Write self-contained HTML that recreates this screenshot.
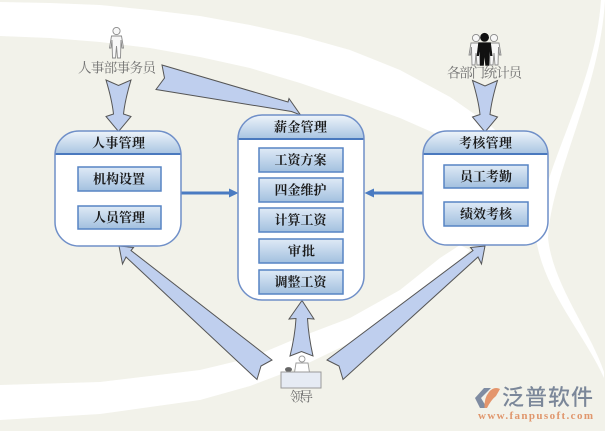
<!DOCTYPE html>
<html><head><meta charset="utf-8"><style>
html,body{margin:0;padding:0;background:#f2f2ea;}
svg{display:block}
.bx{font-family:"Liberation Serif","Noto Serif CJK SC",serif;font-weight:bold;font-size:13px;fill:#1c1c1c}
.lb{font-family:"Liberation Serif","Noto Serif CJK SC",serif;font-size:13.5px;fill:#707070}
</style></head><body>
<svg width="605" height="431" viewBox="0 0 605 431" xmlns="http://www.w3.org/2000/svg">
<defs>
<linearGradient id="hg" x1="0" y1="0" x2="0" y2="1">
<stop offset="0" stop-color="#eef4fa"/><stop offset="1" stop-color="#a8c4e1"/>
</linearGradient>
<linearGradient id="ig" x1="0" y1="0" x2="0" y2="1">
<stop offset="0" stop-color="#dfeaf6"/><stop offset="1" stop-color="#a2c0df"/>
</linearGradient>
<clipPath id="c1"><rect x="55" y="131" width="126" height="115" rx="24"/></clipPath>
<clipPath id="c2"><rect x="238" y="115" width="126" height="185" rx="24"/></clipPath>
<clipPath id="c3"><rect x="423" y="131" width="125" height="114" rx="24"/></clipPath>
</defs>
<rect width="605" height="431" fill="#f2f2ea"/>

<!-- background white bands -->
<path fill="#ffffff" d="M0 2 L50 3 L100 5 L150 10 L200 16 L250 25 L300 36 L350 50 L400 70 L450 97 L490 125 L520 155 L500 185 L470 155 L450 140 L400 118 L350 100 L300 83 L250 68 L200 57 L150 48 L100 42 L50 38 L0 36 Z"/>
<path fill="#ffffff" d="M0 385 L100 382 L200 370 L250 358 L300 337 L350 318 L400 290 L440 258 L460 245 L470 250 L450 272 L400 312 L350 343 L300 367 L250 386 L200 400 L100 414 L0 420 Z"/>
<path fill="#ffffff" d="M601 0 C595 90 540 170 536 238 C543 290 585 335 604 378 L604 372 C590 330 553 285 548 238 C551 175 600 90 605 0 Z"/>

<!-- block arrows -->
<g fill="#bfcfee" stroke="#555" stroke-width="1" stroke-linejoin="miter">
<path d="M106 80 L118.5 85.5 L131 80 Q125 100 123.5 114 L131 116.5 L118.5 131.5 L106 116.5 L113.5 114 Q112 100 106 80 Z"/>
<path transform="translate(366.5,0.5)" d="M106 80 L118.5 85.5 L131 80 Q125 100 123.5 114 L131 116.5 L118.5 131.5 L106 116.5 L113.5 114 Q112 100 106 80 Z"/>
<path d="M290 356 L301.5 351.5 L313 356 Q308.5 336 307.5 318.5 L314 319 L302 300.5 L289 319 L296 318.5 Q295 336 290 356 Z"/>
<path d="M162 65 L288 102 L289 98.5 L300.5 115 L291.5 111.5 L156 89.5 L164.5 78 Z"/>
<path d="M119 246 L122.5 264 L126 257 L257 379.5 L261 366 L272 360 L131 250.5 L133.5 247.5 Z"/>
<path d="M485 246 L481.5 264 L478 257 L343 379.5 L339 366 L327 360 L473 250.5 L470.5 247.5 Z"/>
</g>

<!-- horizontal connectors -->
<line x1="181" y1="193" x2="231" y2="193" stroke="#4a7bc2" stroke-width="3"/>
<polygon points="229,188.5 238.5,193 229,197.5" fill="#4a7bc2"/>
<line x1="423" y1="193" x2="373" y2="193" stroke="#4a7bc2" stroke-width="3"/>
<polygon points="374,188.5 364.5,193 374,197.5" fill="#4a7bc2"/>

<!-- left box -->
<rect x="55" y="131" width="126" height="115" rx="24" fill="#ffffff"/>
<rect x="55" y="131" width="126" height="23" fill="url(#hg)" clip-path="url(#c1)"/>
<line x1="55" y1="154" x2="181" y2="154" stroke="#4a79be" stroke-width="2"/>
<rect x="55" y="131" width="126" height="115" rx="24" fill="none" stroke="#6f8fc8" stroke-width="1.5"/>
<text class="bx" x="92" y="143" dominant-baseline="central" textLength="53" lengthAdjust="spacing">人事管理</text>
<rect x="78" y="167" width="83" height="24" fill="url(#ig)" stroke="#5784c4" stroke-width="1.5"/>
<text class="bx" x="93" y="179" dominant-baseline="central" textLength="52" lengthAdjust="spacing">机构设置</text>
<rect x="78" y="206" width="83" height="23" fill="url(#ig)" stroke="#5784c4" stroke-width="1.5"/>
<text class="bx" x="93" y="217.5" dominant-baseline="central" textLength="52" lengthAdjust="spacing">人员管理</text>

<!-- center box -->
<rect x="238" y="115" width="126" height="185" rx="24" fill="#ffffff"/>
<rect x="238" y="115" width="126" height="24" fill="url(#hg)" clip-path="url(#c2)"/>
<line x1="238" y1="139" x2="364" y2="139" stroke="#4a79be" stroke-width="2"/>
<rect x="238" y="115" width="126" height="185" rx="24" fill="none" stroke="#6f8fc8" stroke-width="1.5"/>
<text class="bx" x="274" y="127" dominant-baseline="central" textLength="53" lengthAdjust="spacing">薪金管理</text>
<rect x="259" y="148" width="84" height="24" fill="url(#ig)" stroke="#5784c4" stroke-width="1.5"/>
<text class="bx" x="274.5" y="160" dominant-baseline="central" textLength="52" lengthAdjust="spacing">工资方案</text>
<rect x="259" y="178" width="84" height="24" fill="url(#ig)" stroke="#5784c4" stroke-width="1.5"/>
<text class="bx" x="274.5" y="190" dominant-baseline="central" textLength="52" lengthAdjust="spacing">四金维护</text>
<rect x="259" y="208" width="84" height="24" fill="url(#ig)" stroke="#5784c4" stroke-width="1.5"/>
<text class="bx" x="274.5" y="220" dominant-baseline="central" textLength="52" lengthAdjust="spacing">计算工资</text>
<rect x="259" y="239" width="84" height="24" fill="url(#ig)" stroke="#5784c4" stroke-width="1.5"/>
<text class="bx" x="288" y="251" dominant-baseline="central" textLength="27" lengthAdjust="spacing">审批</text>
<rect x="259" y="270" width="84" height="24" fill="url(#ig)" stroke="#5784c4" stroke-width="1.5"/>
<text class="bx" x="274.5" y="282" dominant-baseline="central" textLength="52" lengthAdjust="spacing">调整工资</text>

<!-- right box -->
<rect x="423" y="131" width="125" height="114" rx="24" fill="#ffffff"/>
<rect x="423" y="131" width="125" height="23" fill="url(#hg)" clip-path="url(#c3)"/>
<line x1="423" y1="154" x2="548" y2="154" stroke="#4a79be" stroke-width="2"/>
<rect x="423" y="131" width="125" height="114" rx="24" fill="none" stroke="#6f8fc8" stroke-width="1.5"/>
<text class="bx" x="459" y="143" dominant-baseline="central" textLength="53" lengthAdjust="spacing">考核管理</text>
<rect x="444" y="165" width="84" height="23" fill="url(#ig)" stroke="#5784c4" stroke-width="1.5"/>
<text class="bx" x="460" y="176.5" dominant-baseline="central" textLength="52" lengthAdjust="spacing">员工考勤</text>
<rect x="444" y="202" width="84" height="24" fill="url(#ig)" stroke="#5784c4" stroke-width="1.5"/>
<text class="bx" x="460" y="214" dominant-baseline="central" textLength="52" lengthAdjust="spacing">绩效考核</text>

<!-- person: 人事部事务员 -->
<g transform="translate(109.5,27)" fill="#f7f7f7" stroke="#8a8a8a" stroke-width="0.9">
<circle cx="7" cy="4" r="3.6"/>
<path d="M2 9 L12 9 L14 21 L12.5 21 L11.5 13 L11 31 L8 31 L7 19 L6 31 L3 31 L2.5 13 L1.5 21 L0 21 Z"/>
</g>
<text class="lb" x="78" y="68" dominant-baseline="central" textLength="78" lengthAdjust="spacing">人事部事务员</text>

<!-- group: 各部门统计员 -->
<g transform="translate(469,34)" fill="#f7f7f7" stroke="#8a8a8a" stroke-width="0.9">
<circle cx="7" cy="4" r="3.6"/>
<path d="M2 9 L12 9 L14 21 L12.5 21 L11.5 13 L11 31 L8 31 L7 19 L6 31 L3 31 L2.5 13 L1.5 21 L0 21 Z"/>
</g>
<g transform="translate(487,34)" fill="#f7f7f7" stroke="#8a8a8a" stroke-width="0.9">
<circle cx="7" cy="4" r="3.6"/>
<path d="M2 9 L12 9 L14 21 L12.5 21 L11.5 13 L11 31 L8 31 L7 19 L6 31 L3 31 L2.5 13 L1.5 21 L0 21 Z"/>
</g>
<g transform="translate(477,33) scale(1.08)" fill="#111" stroke="#111" stroke-width="0.6">
<circle cx="7" cy="4" r="3.8"/>
<path d="M1.5 9 L12.5 9 L14 21 L12.5 21 L11.5 13 L11 30 L8 30 L7 19 L6 30 L3 30 L2.5 13 L1.5 21 L0 21 Z"/>
</g>
<text class="lb" x="447" y="73" dominant-baseline="central" textLength="75" lengthAdjust="spacing">各部门统计员</text>

<!-- 领导 icon -->
<circle cx="302" cy="359" r="3" fill="#fff" stroke="#999" stroke-width="0.9"/>
<path d="M296 363 L308 363 L309.5 372.5 L294.5 372.5 Z" fill="#fff" stroke="#999" stroke-width="0.9"/>
<ellipse cx="288.5" cy="369.5" rx="3.5" ry="2.4" fill="#666"/>
<rect x="281" y="372" width="40" height="16" fill="#e6ebf4" stroke="#9a9a9a" stroke-width="1"/>
<text class="lb" x="290" y="397" font-size="12" dominant-baseline="central" textLength="23" lengthAdjust="spacing">领导</text>

<!-- logo -->
<path d="M484 388 L491 388 L481 398 L487 408 L480 408 L475 398 Z" fill="#7f8ca2"/>
<path d="M489 392 Q494 386 500 389 L496 396 Q491 400 487 408 L484.5 408 Q484 398 489 392 Z" fill="#e4956c"/>
<text x="502" y="397.5" dominant-baseline="central" font-family="'Liberation Sans','Noto Sans CJK SC',sans-serif" font-weight="500" font-size="22" fill="#7b8799" textLength="91" lengthAdjust="spacing">泛普软件</text>
<text x="478" y="416" dominant-baseline="central" font-family="'Liberation Serif',serif" font-weight="bold" font-size="11" fill="#e0966c" textLength="115" lengthAdjust="spacing">www.fanpusoft.com</text>
</svg>
</body></html>
